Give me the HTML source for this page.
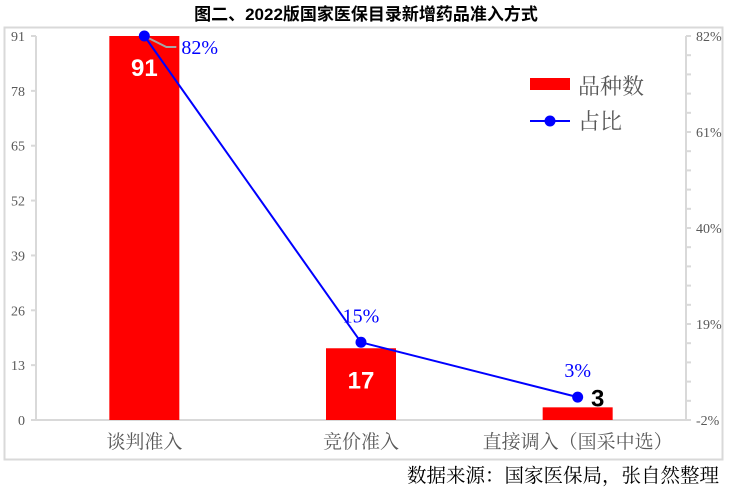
<!DOCTYPE html>
<html><head><meta charset="utf-8"><style>
body{margin:0;background:#fff;}
svg{display:block;font-family:"Liberation Serif","Noto Serif CJK SC",serif;}
</style></head><body>
<svg id="c" width="732" height="491">
<rect x="4.5" y="27.5" width="718" height="432" fill="none" stroke="#d9d9d9" stroke-width="2"/>
<text x="366" y="20" text-anchor="middle" font-family="Liberation Sans,'Noto Sans CJK SC',sans-serif" font-weight="bold" font-size="17">图二、2022版国家医保目录新增药品准入方式</text>
<g id="g"></g>
<text x="719" y="482" text-anchor="end" font-size="19.5" fill="#000">数据来源：国家医保局，张自然整理</text>
<rect x="530" y="78" width="40" height="12" fill="#ff0000"/>
<text x="578" y="94" font-size="22" fill="#595959">品种数</text>
<line x1="530" y1="121" x2="570" y2="121" stroke="#0000ff" stroke-width="2"/>
<circle cx="550" cy="121" r="5.5" fill="#0000ff"/>
<text x="578" y="129" font-size="22" fill="#595959">占比</text>
</svg>
<script>
const categories=["谈判准入","竞价准入","直接调入（国采中选）"];
const counts=[91,17,3];
const shares=[82,15,3];
const leftTicks=[0,13,26,39,52,65,78,91];
const rightTicks=[-2,19,40,61,82];
const NS="http://www.w3.org/2000/svg";
const g=document.getElementById('g');
const X0=36,X1=686,Y0=420,Y1=36;
const yL=v=>Y0-(v-0)/(91-0)*(Y0-Y1);
const yR=v=>Y0-(v+2)/(84)*(Y0-Y1);
const xC=i=>X0+(i+0.5)*(X1-X0)/categories.length;
function mk(t,a){const e=document.createElementNS(NS,t);for(const k in a)e.setAttribute(k,a[k]);g.appendChild(e);return e;}
let e;
e=mk('line',{x1:X0,y1:Y1,x2:X0,y2:Y0,stroke:'#d9d9d9','stroke-width':2});


e=mk('line',{x1:X1,y1:Y1,x2:X1,y2:Y0,stroke:'#d9d9d9','stroke-width':2});


e=mk('line',{x1:X0,y1:Y0,x2:X1,y2:Y0,stroke:'#d9d9d9','stroke-width':2});


leftTicks.forEach(v=>{
 e=mk('line',{x1:X0-5,y1:yL(v),x2:X0,y2:yL(v),stroke:'#d9d9d9','stroke-width':2});
 
 
 e=mk('text',{x:X0-11,y:yL(v)+5,'text-anchor':'end','font-size':14,fill:'#595959'});e.textContent=v;
 
 
});
for(let v=-2;v<=82.01;v+=4.2){
 e=mk('line',{x1:X1,y1:yR(v),x2:X1+5,y2:yR(v),stroke:'#d9d9d9','stroke-width':2});
 
 
}
rightTicks.forEach(v=>{
 e=mk('text',{x:X1+10,y:yR(v)+5,'font-size':14,fill:'#595959'});e.textContent=v+'%';
 
 
});
categories.forEach((c,i)=>{
 const x=xC(i),bw=70;
 e=mk('rect',{x:x-bw/2,y:yL(counts[i]),width:bw,height:Y0-yL(counts[i]),fill:'#ff0000'});
 
 
 e=mk('text',{x:x,y:Y0+28,'text-anchor':'middle','font-size':19,fill:'#595959'});e.textContent=c;
 
 
});
[0,1].forEach(i=>{
 e=mk('text',{x:xC(i),y:yL(counts[i])+40,'text-anchor':'middle','font-size':24,'font-weight':'bold',fill:'#fff','font-family':'Liberation Sans,sans-serif'});e.textContent=counts[i];
 
 
});
e=mk('text',{x:xC(2)+20,y:yL(counts[2])-1,'text-anchor':'middle','font-size':24,'font-weight':'bold',fill:'#000','font-family':'Liberation Sans,sans-serif'});e.textContent=counts[2];


const pts=shares.map((s,i)=>xC(i)+','+yR(s)).join(' ');
e=mk('polyline',{points:pts,fill:'none',stroke:'#0000ff','stroke-width':2});


e=mk('polyline',{points:`${xC(0)+4},${yR(shares[0])+2} ${xC(0)+22},${yR(shares[0])+11} ${xC(0)+32},${yR(shares[0])+11}`,fill:'none',stroke:'#a6a6a6','stroke-width':2});


shares.forEach((s,i)=>{
 e=mk('circle',{cx:xC(i),cy:yR(s),r:5.5,fill:'#0000ff'});
 
 
 const a=i==0?{x:xC(i)+37,y:yR(s)+18,'text-anchor':'start'}:{x:xC(i),y:yR(s)-20,'text-anchor':'middle'};
 e=mk('text',Object.assign(a,{'font-size':20,fill:'#0000ff'}));e.textContent=s+'%';
 
 
});
</script>
</body></html>
